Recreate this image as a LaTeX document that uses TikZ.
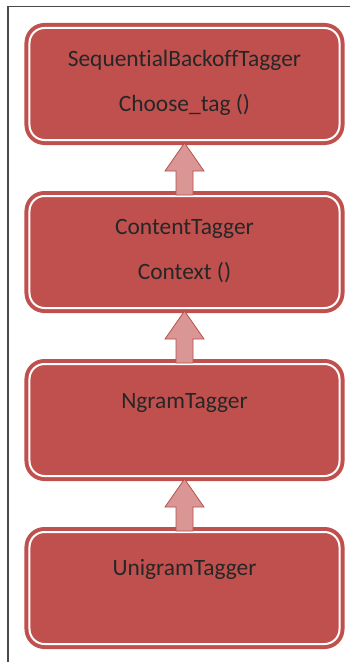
\documentclass[tikz,border=0pt]{standalone}
\usepackage{fontspec}
\setmainfont{Carlito}[Ligatures={NoCommon}]
\usetikzlibrary{calc}
\definecolor{boxred}{HTML}{C0504D}
\definecolor{arrowfill}{HTML}{D99694}
\definecolor{arrowline}{HTML}{B6504C}
\definecolor{txt}{HTML}{262626}
\definecolor{frame}{HTML}{4A4A4A}
\tikzset{
  classbox/.style={draw=boxred, line width=4bp, double=white, double distance=2bp,
    fill=boxred, rounded corners=15bp, minimum width=310bp, minimum height=112bp,
    inner sep=0pt},
  lbl/.style={text=txt, font=\fontsize{23.5}{27}\selectfont, anchor=base, inner sep=0pt},
  uparrow/.style={fill=arrowfill, draw=arrowline, line width=0.8bp, line join=miter}
}
\newcommand{\uparr}[2]{% from lower box #1 to upper box #2
  \draw[uparrow] ($(#2.south)+(0,1)$) -- ($(#2.south)+(19.5,29)$) -- ($(#2.south)+(8.5,29)$)
    -- ($(#1.north)+(8.5,1)$) -- ($(#1.north)+(-8.5,1)$) -- ($(#2.south)+(-8.5,29)$)
    -- ($(#2.south)+(-19.5,29)$) -- cycle;}
\begin{document}
\begin{tikzpicture}[x=1bp,y=-1bp]
\useasboundingbox (0,0) rectangle (350,662);
\fill[white] (0,0) rectangle (350,662);
\draw[frame, line width=1.5bp] (8,662) -- (8,6.5) -- (350,6.5);
\node[classbox] (b1) at (184.5,84) {};
\node[classbox] (b2) at (184.5,252) {};
\node[classbox] (b3) at (184.5,420) {};
\node[classbox] (b4) at (184.5,588) {};
\node[lbl] (t1a) at ($(b1.center)+(0,-17)$) {SequentialBackoffTagger};
\node[lbl] (t1b) at ($(b1.center)+(0,28)$) {Choose\_tag ()};
\node[lbl] (t2a) at ($(b2.center)+(0,-18)$) {ContentTagger};
\node[lbl] (t2b) at ($(b2.center)+(0,27)$) {Context ()};
\node[lbl] (t3) at ($(b3.center)+(0,-12)$) {NgramTagger};
\node[lbl] (t4) at ($(b4.center)+(0,-13)$) {UnigramTagger};
\uparr{b2}{b1}
\uparr{b3}{b2}
\uparr{b4}{b3}
\end{tikzpicture}
\end{document}
